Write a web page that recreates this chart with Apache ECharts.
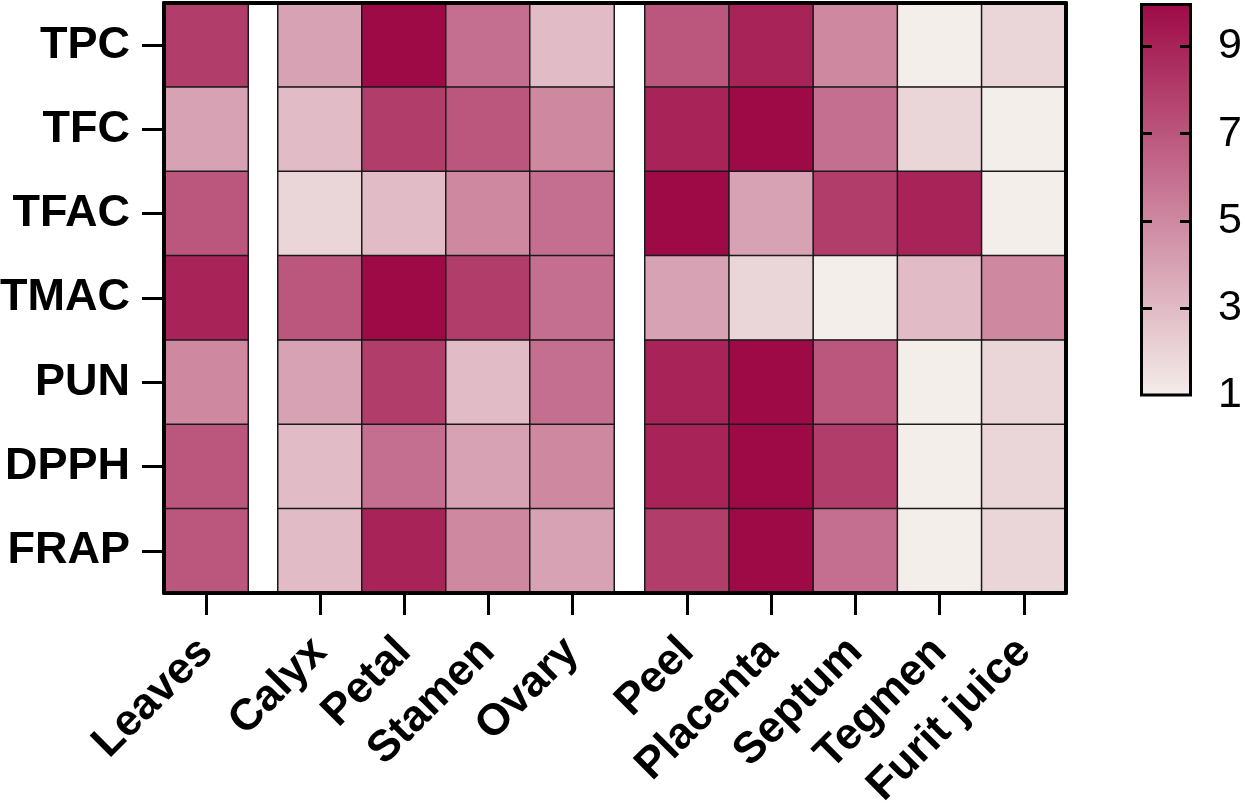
<!DOCTYPE html>
<html lang="en">
<head>
    <meta charset="UTF-8">
    <title>Heatmap</title>
    <script src="https://cdn.jsdelivr.net/npm/echarts@6/dist/echarts.min.js"></script>
    <style>
        body { margin: 0; background: #fff; }
    </style>
</head>
<body>
<div id="main" style="width: 1245px;height:806px;"></div>
<script type="text/javascript">
    // rows (assays)
    var rowNames = ['TPC', 'TFC', 'TFAC', 'TMAC', 'PUN', 'DPPH', 'FRAP'];
    // tissues, three blocks
    var leafParts = ['Leaves'];
    var flowerParts = ['Calyx', 'Petal', 'Stamen', 'Ovary'];
    var fruitParts = ['Peel', 'Placenta', 'Septum', 'Tegmen', 'Furit juice'];

    // rank per row, order: Leaves | Calyx Petal Stamen Ovary | Peel Placenta Septum Tegmen Furit juice
    var TPC  = [8, 4, 10, 6, 3, 7, 9, 5, 1, 2];
    var TFC  = [4, 3, 8, 7, 5, 9, 10, 6, 2, 1];
    var TFAC = [7, 2, 3, 5, 6, 10, 4, 8, 9, 1];
    var TMAC = [9, 7, 10, 8, 6, 4, 2, 1, 3, 5];
    var PUN  = [5, 4, 8, 3, 6, 9, 10, 7, 1, 2];
    var DPPH = [7, 3, 6, 4, 5, 9, 10, 8, 1, 2];
    var FRAP = [7, 3, 9, 5, 4, 8, 10, 6, 1, 2];

    // color scale
    var scaleMin = 1, scaleMax = 10;
    var scaleLabels = [1, 3, 5, 7, 9];
    var scaleTicks = [3, 5, 7, 9];
    var lowColor = '#F4EEEA', highColor = '#9E0A46';

    var font = "'Liberation Sans', Arial, sans-serif";
    var rows = [TPC, TFC, TFAC, TMAC, PUN, DPPH, FRAP];

    function blockData(offset, count) {
        var out = [];
        rows.forEach(function (r, i) {
            for (var j = 0; j < count; j++) {
                out.push([j, i, r[offset + j]]);
            }
        });
        return out;
    }

    function partAxis(gi, names) {
        return {
            type: 'category', gridIndex: gi, data: names,
            axisLine: {show: false},
            axisTick: {show: true, alignWithLabel: true, length: 22, lineStyle: {color: '#000', width: 3}},
            axisLabel: {
                rotate: 45, interval: 0, margin: 52, color: '#000',
                fontSize: 44, fontWeight: 'bold', fontFamily: font
            },
            splitLine: {show: false}
        };
    }

    function rowAxis(gi, showIt) {
        return {
            type: 'category', gridIndex: gi, data: rowNames, inverse: true, show: showIt,
            axisLine: {show: false},
            axisTick: {show: true, alignWithLabel: true, length: 22, lineStyle: {color: '#000', width: 3}},
            axisLabel: {margin: 34, color: '#000', fontSize: 45, fontWeight: 'bold', fontFamily: font},
            splitLine: {show: false}
        };
    }

    function frameAxis(gi, pos) {
        return {
            type: 'value', gridIndex: gi, min: 0, max: 1, position: pos, z: 10,
            axisLine: {show: true, onZero: false, lineStyle: {color: '#000', width: 4}},
            axisTick: {show: false}, axisLabel: {show: false}, splitLine: {show: false}
        };
    }

    function barAxis(pos, withLabels) {
        return {
            type: 'value', gridIndex: 4, min: scaleMin, max: scaleMax, position: pos, z: 10,
            axisLine: {show: false},
            axisTick: {show: true, inside: true, length: 12, customValues: scaleTicks,
                lineStyle: {color: '#000', width: 3}},
            axisLabel: {show: withLabels, customValues: scaleLabels, margin: 26, color: '#000',
                fontSize: 43, fontFamily: font},
            splitLine: {show: false}
        };
    }

    function box(left, top, width, height) {
        return {left: left, top: top, width: width, height: height, outerBoundsMode: 'none', containLabel: false};
    }

    var cellStyle = {borderColor: '#1a1a1a', borderWidth: 1.5};

    var option = {
        backgroundColor: '#fff',
        animation: false,
        grid: [
            box(164, 3, 84, 590),
            box(278, 3, 336, 590),
            box(645, 3, 421, 590),
            box(164, 3, 902, 590),
            box(1140, 3, 52, 392)
        ],
        xAxis: [
            partAxis(0, leafParts),
            partAxis(1, flowerParts),
            partAxis(2, fruitParts),
            frameAxis(3, 'bottom'),
            frameAxis(3, 'top'),
            {type: 'category', gridIndex: 4, data: ['scale'], show: false}
        ],
        yAxis: [
            rowAxis(0, true),
            rowAxis(1, false),
            rowAxis(2, false),
            frameAxis(3, 'left'),
            frameAxis(3, 'right'),
            barAxis('left', false),
            barAxis('right', true)
        ],
        visualMap: {
            type: 'continuous', show: false, min: scaleMin, max: scaleMax,
            seriesIndex: [0, 1, 2],
            inRange: {color: [lowColor, highColor]}
        },
        series: [
            {type: 'heatmap', xAxisIndex: 0, yAxisIndex: 0, data: blockData(0, leafParts.length), itemStyle: cellStyle},
            {type: 'heatmap', xAxisIndex: 1, yAxisIndex: 1, data: blockData(1, flowerParts.length), itemStyle: cellStyle},
            {type: 'heatmap', xAxisIndex: 2, yAxisIndex: 2, data: blockData(5, fruitParts.length), itemStyle: cellStyle},
            {
                type: 'bar', xAxisIndex: 5, yAxisIndex: 6, data: [scaleMax], barWidth: '100%', silent: true,
                itemStyle: {
                    color: new echarts.graphic.LinearGradient(0, 0, 0, 1, [
                        {offset: 0, color: highColor},
                        {offset: 1, color: lowColor}
                    ]),
                    borderColor: '#000', borderWidth: 3
                }
            }
        ]
    };

    var myChart = echarts.init(document.getElementById('main'));
    myChart.setOption(option);
</script>
</body>
</html>
